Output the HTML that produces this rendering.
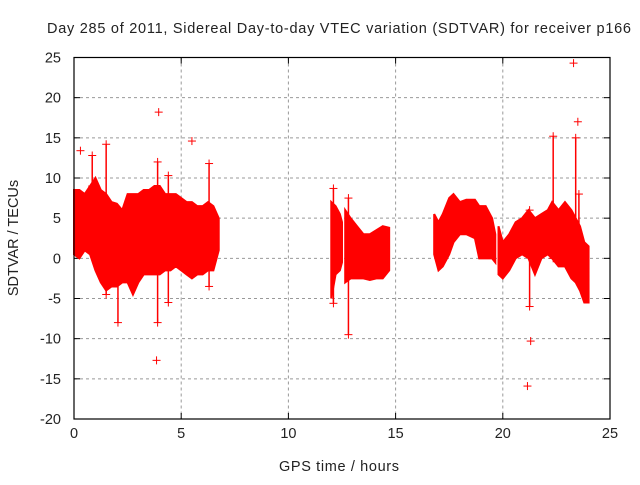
<!DOCTYPE html>
<html><head><meta charset="utf-8"><style>
body{margin:0;background:#fff}
text{font-family:"Liberation Sans",sans-serif;font-size:14.5px;fill:#222}
</style></head><body>
<svg id="c" width="640" height="480"></svg>
<script>
const segT=[[0,0.25,0.5,0.75,1,1.25,1.5,1.75,2,2.25,2.5,2.75,3,3.25,3.5,3.75,4,4.25,4.5,4.75,5,5.25,5.5,5.75,6,6.25,6.5,6.75],
[12.0,12.2,12.4,12.5],[12.65,12.9,13.2,13.5,13.8,14.1,14.4,14.7],
[16.8,17.0,17.2,17.5,17.7,18.0,18.3,18.7,18.9,19.2,19.5,19.65],
[19.8,20.0,20.3,20.6,20.9,21.2,21.5,21.8,22.1,22.3,22.6,22.9,23.2,23.4,23.6,23.8,24.0]];
const segHi=[[8.5,8.5,8,9,10,8.5,8,7,6.8,6,8,8,8,8.5,8.5,9,9,8,8,8,7.5,7,7,6.5,6.5,7,6.5,5],
[7,6.5,5.5,4.5],[6,5,4,3,3,3.5,4,3.8],
[5.5,4.5,5.5,7.5,8,7,7.3,7.3,6.5,6.5,5,3],
[4,2,3,4.5,5,6,5,5.5,6,7,6,7,6,5,4,2,1.5]];
const segLo=[[0.5,0,1,0.5,-1.5,-3,-4,-3.5,-3.5,-3,-3,-4.5,-3,-2,-2,-2,-2,-1.5,-1.5,-1,-1.5,-2,-2.5,-2,-2,-1.5,-1.5,1],
[-5,-2,-1.5,-0.5],[-3,-2.5,-2.5,-2.5,-2.7,-2.5,-2.5,-1.5],
[0.5,-1.5,-1,0.5,2,3,3,2.5,0,0,0,-0.5],
[-2,-2.5,-1.5,0,0.5,0,-2,0,0.5,0,-1,-1,-2.5,-3,-4,-5.5,-5.5]];
const spikeT=[0.85,1.5,2.05,3.9,4.4,6.3,12.1,12.8,21.25,22.35,23.4,23.55];
const spikeLo=[9,-4.5,-8,-8,-5.5,-3.5,-5.6,-9.5,-6,0,-2,-2];
const spikeHi=[12.8,14.2,-3,12,10.3,11.8,8.7,7.5,6,15.2,15,8];
const outT=[0.3,3.95,5.5,3.85,23.3,23.5,21.3,21.15];
const outV=[13.4,18.2,14.6,-12.7,24.3,17,-10.3,-15.9];
const xTicks=[0,5,10,15,20,25];
const yTicks=[-20,-15,-10,-5,0,5,10,15,20,25];

const L=74,R=610,T=57.5,B=419;
const X=v=>L+(v-0)/25*(R-L);
const Y=v=>B-(v+20)/45*(B-T);
const svg=document.getElementById('c');
const NS='http://www.w3.org/2000/svg';
function mk(tag,attrs,parent){const e=document.createElementNS(NS,tag);for(const k in attrs)e.setAttribute(k,attrs[k]);(parent||svg).appendChild(e);return e;}

xTicks.forEach(t=>{
 if(t>0&&t<25){const g=mk('line',{x1:X(t),x2:X(t),y1:T,y2:B,stroke:'#999','stroke-dasharray':'3,3','stroke-width':1});
 
 }
 const tk=mk('text',{x:X(t),y:B+19,'text-anchor':'middle'});tk.textContent=t;
 
 
 mk('line',{x1:X(t),x2:X(t),y1:B,y2:B-6,stroke:'#000'});
 mk('line',{x1:X(t),x2:X(t),y1:T,y2:T+6,stroke:'#000'});
});
yTicks.forEach(t=>{
 if(t>-20&&t<25){const g=mk('line',{x1:L,x2:R,y1:Y(t),y2:Y(t),stroke:'#999','stroke-dasharray':'3,3','stroke-width':1});
 
 }
 const tk=mk('text',{x:L-13,y:Y(t)+5,'text-anchor':'end'});tk.textContent=t;
 
 
 mk('line',{x1:L,x2:L+6,y1:Y(t),y2:Y(t),stroke:'#000'});
 mk('line',{x1:R,x2:R-6,y1:Y(t),y2:Y(t),stroke:'#000'});
});

segT.forEach((ts,i)=>{
 let pts=ts.map((t,j)=>X(t)+','+Y(segHi[i][j]));
 for(let j=ts.length-1;j>=0;j--)pts.push(X(ts[j])+','+Y(segLo[i][j]));
 const p=mk('polygon',{points:pts.join(' '),fill:'#ff0000',stroke:'#ff0000','stroke-width':2});
 
 
});
function plus(x,y){mk('line',{x1:x-4,x2:x+4,y1:y,y2:y,stroke:'#ff0000'});mk('line',{x1:x,x2:x,y1:y-4,y2:y+4,stroke:'#ff0000'});}
spikeT.forEach((t,i)=>{
 const l=mk('line',{x1:X(t),x2:X(t),y1:Y(spikeLo[i]),y2:Y(spikeHi[i]),stroke:'#ff0000','stroke-width':1.5});
 
 
 plus(X(t),Y(spikeLo[i]));plus(X(t),Y(spikeHi[i]));
});
outT.forEach((t,i)=>{
 const g=mk('g',{});
 
 
 plus(X(t),Y(outV[i]));
});
const b=mk('rect',{x:L,y:T,width:R-L,height:B-T,fill:'none',stroke:'#000','stroke-width':1.2});


</script>
<svg width="640" height="480" style="position:absolute;left:0;top:0">
<text x="47" y="33" textLength="584" lengthAdjust="spacing">Day 285 of 2011, Sidereal Day-to-day VTEC variation (SDTVAR) for receiver p166</text>
<text x="279" y="471" textLength="120" lengthAdjust="spacing">GPS time / hours</text>
<text transform="translate(18,238) rotate(-90)" text-anchor="middle">SDTVAR / TECUs</text>
</svg>
</body></html>
